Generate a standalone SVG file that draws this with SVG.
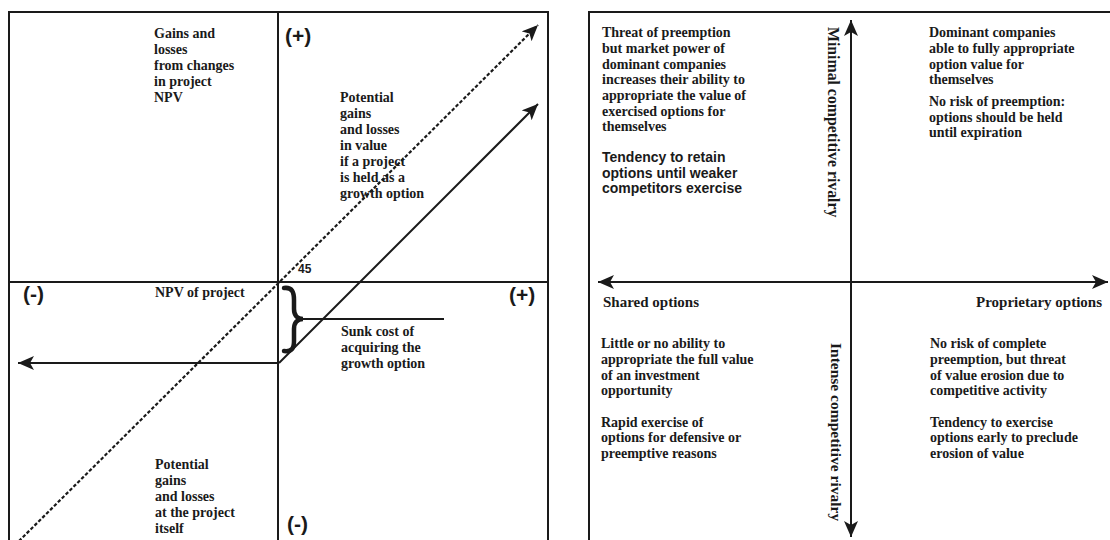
<svg xmlns="http://www.w3.org/2000/svg" width="1110" height="540" viewBox="0 0 1110 540">
<style>
.t{font-family:"Liberation Serif","Times New Roman",serif;font-weight:bold;font-size:14px;fill:#1a1a1a}
.s{font-family:"Liberation Sans",Arial,sans-serif;font-weight:bold;fill:#1a1a1a}
.ln{stroke:#1a1a1a;stroke-width:2;fill:none}
</style>
<defs>
<marker id="ah" markerUnits="userSpaceOnUse" markerWidth="18" markerHeight="14" refX="16" refY="7" orient="auto">
<path d="M0,0 L16,7 L0,14 L4,7 Z" fill="#1a1a1a"/>
</marker>
<marker id="ahs" markerUnits="userSpaceOnUse" markerWidth="18" markerHeight="14" refX="2" refY="7" orient="auto">
<path d="M18,0 L2,7 L18,14 L14,7 Z" fill="#1a1a1a"/>
</marker>
</defs>

<g id="left-panel">
<rect x="9" y="12" width="539" height="540" class="ln"/>
<line x1="9" y1="282" x2="548" y2="282" class="ln"/>
<line x1="278" y1="12" x2="278" y2="545" class="ln"/>
</g>

<g id="connectors">
<line x1="15" y1="545" x2="538" y2="25" stroke="#1a1a1a" stroke-width="2.2" stroke-dasharray="3.5,2" marker-end="url(#ah)"/>
<line x1="279" y1="363" x2="538" y2="104" class="ln" marker-end="url(#ah)"/>
<line x1="279" y1="363" x2="18" y2="363" class="ln" marker-end="url(#ah)"/>
<path d="M284,288 C292,287 294,292 294,300 L294,309 C294,315 297,319 303,319 C297,319 294,323 294,329 L294,341 C294,348 292,352 284,351" stroke="#1a1a1a" stroke-width="4.5" stroke-linecap="round" fill="none"/>
<line x1="303" y1="319" x2="444" y2="319" class="ln"/>
<line x1="598" y1="282" x2="1108" y2="282" class="ln" marker-start="url(#ahs)" marker-end="url(#ah)"/>
<line x1="851" y1="20" x2="851" y2="537" class="ln" marker-start="url(#ahs)" marker-end="url(#ah)"/>
</g>

<g id="left-labels">
<text class="t"><tspan x="154" y="38">Gains and</tspan><tspan x="154" y="54">losses</tspan><tspan x="154" y="70">from changes</tspan><tspan x="154" y="86">in project</tspan><tspan x="154" y="102">NPV</tspan></text>
<text class="t"><tspan x="340" y="102">Potential</tspan><tspan x="340" y="118">gains</tspan><tspan x="340" y="134">and losses</tspan><tspan x="340" y="150">in value</tspan><tspan x="340" y="166">if a project</tspan><tspan x="340" y="182">is held as a</tspan><tspan x="340" y="198">growth option</tspan></text>
<text class="t" x="155" y="297">NPV of project</text>
<text class="t"><tspan x="341" y="336">Sunk cost of</tspan><tspan x="341" y="352">acquiring the</tspan><tspan x="341" y="368">growth option</tspan></text>
<text class="t"><tspan x="155" y="469">Potential</tspan><tspan x="155" y="485">gains</tspan><tspan x="155" y="501">and losses</tspan><tspan x="155" y="517">at the project</tspan><tspan x="155" y="533">itself</tspan></text>
<text class="s" x="285" y="43" font-size="21">(+)</text>
<text class="s" x="23" y="301" font-size="21">(-)</text>
<text class="s" x="509" y="302" font-size="21">(+)</text>
<text class="s" x="287" y="531" font-size="21">(-)</text>
<text class="s" x="298" y="273" font-size="12">45</text>
</g>

<g id="right-panel">
<path d="M589,545 L589,12 L1115,12" class="ln"/>
</g>

<g id="right-labels">
<text class="t"><tspan x="602" y="37">Threat of preemption</tspan><tspan x="602" y="53">but market power of</tspan><tspan x="602" y="69">dominant companies</tspan><tspan x="602" y="84">increases their ability to</tspan><tspan x="602" y="100">appropriate the value of</tspan><tspan x="602" y="116">exercised options for</tspan><tspan x="602" y="131">themselves</tspan></text>
<text class="s" font-size="14"><tspan x="602" y="162">Tendency to retain</tspan><tspan x="602" y="178">options until weaker</tspan><tspan x="602" y="193">competitors exercise</tspan></text>
<text class="t"><tspan x="929" y="37">Dominant companies</tspan><tspan x="929" y="53">able to fully appropriate</tspan><tspan x="929" y="69">option value for</tspan><tspan x="929" y="84">themselves</tspan><tspan x="929" y="106">No risk of preemption:</tspan><tspan x="929" y="122">options should be held</tspan><tspan x="929" y="137">until expiration</tspan></text>
<text class="t" x="603" y="307" style="font-size:15px">Shared options</text>
<text class="t" x="1102" y="307" text-anchor="end" style="font-size:15px">Proprietary options</text>
<text class="t"><tspan x="601" y="348">Little or no ability to</tspan><tspan x="601" y="364">appropriate the full value</tspan><tspan x="601" y="380">of an investment</tspan><tspan x="601" y="395">opportunity</tspan><tspan x="601" y="427">Rapid exercise of</tspan><tspan x="601" y="442">options for defensive or</tspan><tspan x="601" y="458">preemptive reasons</tspan></text>
<text class="t"><tspan x="930" y="348">No risk of complete</tspan><tspan x="930" y="364">preemption, but threat</tspan><tspan x="930" y="380">of value erosion due to</tspan><tspan x="930" y="395">competitive activity</tspan><tspan x="930" y="427">Tendency to exercise</tspan><tspan x="930" y="442">options early to preclude</tspan><tspan x="930" y="458">erosion of value</tspan></text>
<text class="t" transform="translate(828,27) rotate(90)" style="font-size:15.8px">Minimal competitive rivalry</text>
<text class="t" transform="translate(831,343) rotate(90)" style="font-size:15.5px">Intense competitive rivalry</text>
</g>
</svg>
